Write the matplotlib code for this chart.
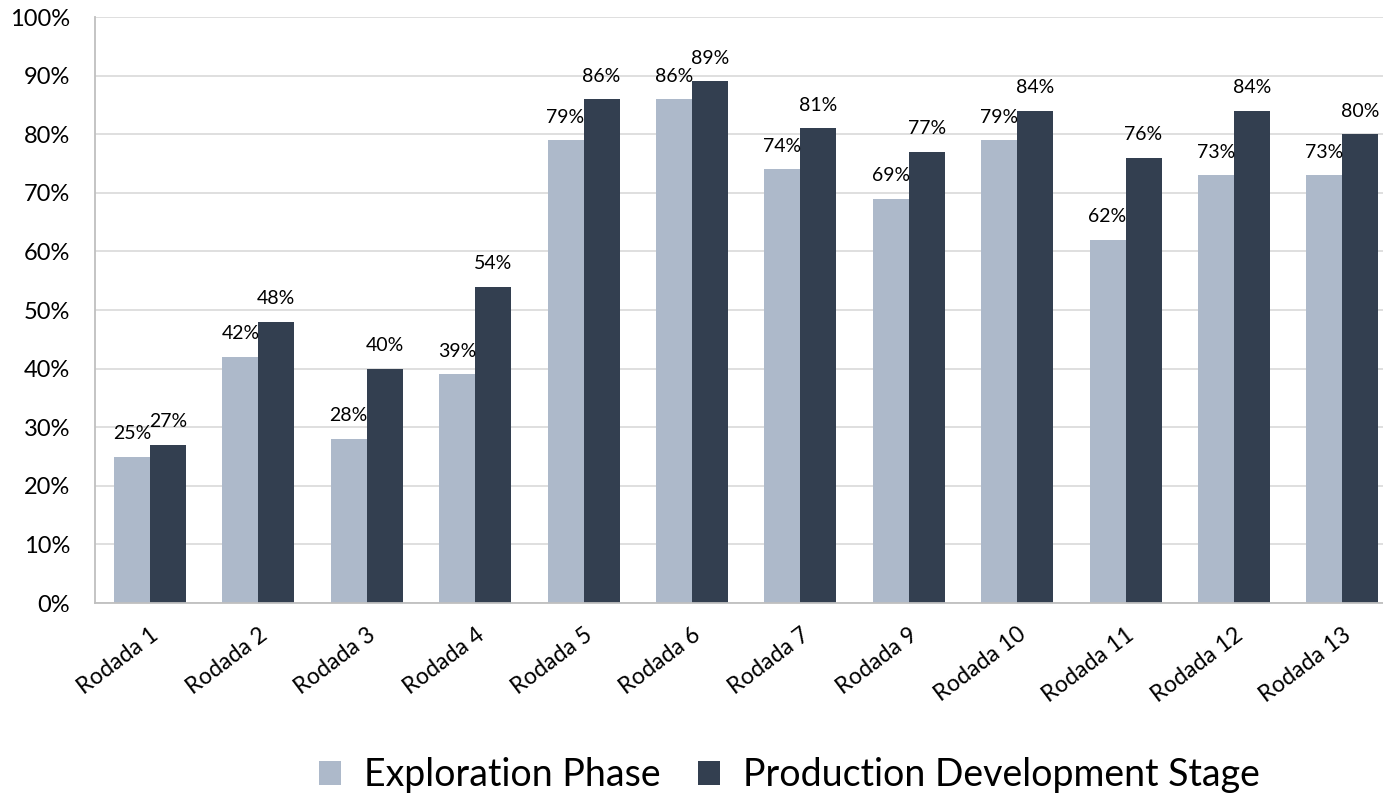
import matplotlib.pyplot as plt
import numpy as np
from matplotlib.ticker import PercentFormatter

plt.rcParams['font.family'] = ['Lato', 'DejaVu Sans']

categories = ['Rodada 1', 'Rodada 2', 'Rodada 3', 'Rodada 4', 'Rodada 5', 'Rodada 6',
              'Rodada 7', 'Rodada 9', 'Rodada 10', 'Rodada 11', 'Rodada 12', 'Rodada 13']
exploration = [25, 42, 28, 39, 79, 86, 74, 69, 79, 62, 73, 73]
production = [27, 48, 40, 54, 86, 89, 81, 77, 84, 76, 84, 80]

light = '#ADB9CA'
dark = '#333F50'

fig = plt.figure(figsize=(13.83, 7.95), dpi=100)
ax = fig.add_axes([95/1383, 1-603/795, 1-95/1383, (603-17)/795])

x = np.arange(len(categories))
w = 0.332
b1 = ax.bar(x - w/2, exploration, w, color=light, label='Exploration Phase', zorder=2)
b2 = ax.bar(x + w/2, production, w, color=dark, label='Production Development Stage', zorder=2)

# data labels above each bar
for bars, vals in [(b1, exploration), (b2, production)]:
    for r, v in zip(bars, vals):
        ax.annotate(f'{v}%', (r.get_x() + r.get_width()/2, v), xytext=(0, 23),
                    textcoords='offset pixels', ha='center', va='center', fontsize=14)

ax.set_ylim(0, 100)
ax.set_xlim(-0.507, 11.375)
ax.set_yticks(np.arange(0, 101, 10))
ax.yaxis.set_major_formatter(PercentFormatter(decimals=0))
ax.grid(axis='y', color='#D9D9D9', linewidth=1.2, zorder=0)
ax.set_axisbelow(True)
for s in ['top', 'right']:
    ax.spines[s].set_visible(False)
for s in ['left', 'bottom']:
    ax.spines[s].set_color('#BFBFBF')
    ax.spines[s].set_linewidth(1.3)
ax.tick_params(axis='both', length=0)
ax.tick_params(axis='y', labelsize=17, pad=18)
ax.set_xticks(x)
ax.set_xticklabels(categories, rotation=37, ha='right', rotation_mode='anchor', fontsize=16.5)
ax.tick_params(axis='x', pad=15)

fig.legend(handles=[b1, b2], loc='center', bbox_to_anchor=(789/1383, 1-775/795), ncol=2,
           frameon=False, fontsize=27, handlelength=0.6, handleheight=0.6,
           handletextpad=0.6, columnspacing=1.0)

fig.savefig('out.png', dpi=100)
